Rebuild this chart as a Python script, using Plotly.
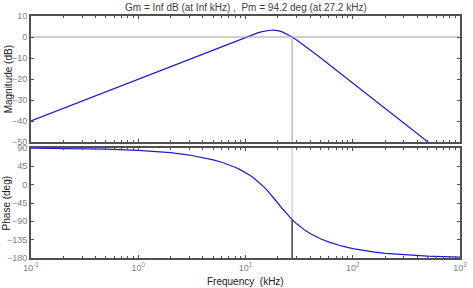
import plotly.graph_objects as go

# Frequency samples (kHz)
freq = [0.1, 0.2, 0.5, 1, 2, 3, 4, 5, 6, 7, 8, 9, 10, 11, 12, 13, 14, 15, 16, 17,
        18, 19, 20, 22, 24, 26, 27.2, 30, 33, 36, 40, 45, 50, 60, 70, 80, 100,
        130, 160, 200, 300, 400, 500, 700, 1000]
# Magnitude (dB)
mag_db = [-40.0, -33.98, -26.02, -20.0, -13.98, -10.46, -7.96, -6.02, -4.44, -3.11,
          -1.96, -0.95, -0.07, 0.71, 1.39, 1.96, 2.44, 2.81, 3.07, 3.22,
          3.26, 3.18, 3.01, 2.42, 1.60, 0.64, 0.05, -1.39, -2.89, -4.31, -6.09,
          -8.10, -9.91, -13.07, -15.75, -18.06, -21.94, -26.50, -30.11, -33.98,
          -41.03, -46.02, -49.90, -55.75, -61.94]
# Phase (deg)
phase_deg = [89.43, 88.85, 87.13, 84.27, 78.52, 72.75, 66.92, 61.03, 55.05, 48.96,
             42.74, 36.34, 29.74, 22.93, 15.89, 8.60, 1.08, -6.61, -14.43, -22.28,
             -30.07, -37.67, -45.0, -58.54, -70.33, -80.38, -85.67, -96.12, -105.0,
             -112.17, -119.74, -127.06, -132.74, -141.01, -146.77, -151.03, -156.92,
             -162.30, -165.63, -168.52, -172.36, -174.27, -175.42, -176.72, -177.70]

pm_freq = 27.2
pm_phase = -85.8
title_text = "Gm = Inf dB (at Inf kHz) ,  Pm = 94.2 deg (at 27.2 kHz)"

mag_range = [-50, 10]
mag_ticks = [-50, -40, -30, -20, -10, 0, 10]
phase_range = [-180, 90]
phase_ticks = [-180, -135, -90, -45, 0, 45, 90]
x_ticks = [0.1, 1, 10, 100, 1000]
x_ticktext = ["10<sup>-1</sup>", "10<sup>0</sup>", "10<sup>1</sup>", "10<sup>2</sup>", "10<sup>3</sup>"]
minor_ticks = [m * d for d in [0.1, 1, 10, 100] for m in range(2, 10)]

blue = "#1a1ad8"
frame = "#505050"
tickfont = dict(family="Liberation Sans, Arial, sans-serif", size=9, color="#808080")

fig = go.Figure()
# Magnitude
fig.add_trace(go.Scatter(x=freq, y=mag_db, mode="lines", line=dict(color=blue, width=1.2),
                         xaxis="x", yaxis="y", showlegend=False))
# 0 dB line
fig.add_trace(go.Scatter(x=[freq[0], freq[-1]], y=[0, 0], mode="lines",
                         line=dict(color="#a0a0a0", width=1), xaxis="x", yaxis="y", showlegend=False))
# vertical marker in magnitude plot
fig.add_trace(go.Scatter(x=[pm_freq, pm_freq], y=[mag_range[0], 0], mode="lines",
                         line=dict(color="#a0a0a0", width=1), xaxis="x", yaxis="y", showlegend=False))
# vertical light line in phase plot (above)
fig.add_trace(go.Scatter(x=[pm_freq, pm_freq], y=[pm_phase, phase_range[1]], mode="lines",
                         line=dict(color="#c0c0c0", width=1), xaxis="x2", yaxis="y2", showlegend=False))
# vertical dark line in phase plot (below)
fig.add_trace(go.Scatter(x=[pm_freq, pm_freq], y=[phase_range[0], pm_phase], mode="lines",
                         line=dict(color="#404040", width=1.5), xaxis="x2", yaxis="y2", showlegend=False))
# Phase
fig.add_trace(go.Scatter(x=freq, y=phase_deg, mode="lines", line=dict(color=blue, width=1.2),
                         xaxis="x2", yaxis="y2", showlegend=False))

axis_common = dict(showline=True, linecolor=frame, linewidth=2, mirror="ticks",
                   ticks="inside", ticklen=3, tickcolor=frame, showgrid=False,
                   zeroline=False, tickfont=tickfont)

H = 242.0
fig.update_layout(
    width=473, height=288,
    margin=dict(l=31, r=6, t=16, b=30),
    paper_bgcolor="white", plot_bgcolor="white",
    xaxis=dict(type="log", range=[-1, 3], domain=[0, 1], anchor="y",
               tickvals=x_ticks, showticklabels=False,
               minor=dict(tickvals=minor_ticks, ticks="inside", ticklen=2, tickcolor=frame),
               **axis_common),
    yaxis=dict(range=mag_range, tickvals=mag_ticks, domain=[(258 - 142) / H, 1.0],
               anchor="x", **axis_common),
    xaxis2=dict(type="log", range=[-1, 3], domain=[0, 1], anchor="y2",
                tickvals=x_ticks, ticktext=x_ticktext,
                minor=dict(tickvals=minor_ticks, ticks="inside", ticklen=2, tickcolor=frame),
                **axis_common),
    yaxis2=dict(range=phase_range, tickvals=phase_ticks, domain=[0, (258 - 148) / H],
                anchor="x2", **axis_common),
    annotations=[
        dict(text=title_text, xref="paper", yref="paper", x=0.5, y=(258 - 7) / H,
             xanchor="center", yanchor="middle", showarrow=False,
             font=dict(family="Liberation Sans, Arial, sans-serif", size=10, color="#404040")),
        dict(text="Magnitude (dB)", xref="paper", yref="paper", x=(8 - 31) / 436.0,
             y=(258 - 79) / H, textangle=-90, xanchor="center", yanchor="middle",
             showarrow=False, font=dict(family="Liberation Sans, Arial, sans-serif", size=10, color="#202020")),
        dict(text="Phase (deg)", xref="paper", yref="paper", x=(6 - 31) / 436.0,
             y=(258 - 203) / H, textangle=-90, xanchor="center", yanchor="middle",
             showarrow=False, font=dict(family="Liberation Sans, Arial, sans-serif", size=10, color="#202020")),
        dict(text="Frequency  (kHz)", xref="paper", yref="paper", x=(249 - 31) / 436.0,
             y=(258 - 281) / H, xanchor="center", yanchor="middle",
             showarrow=False, font=dict(family="Liberation Sans, Arial, sans-serif", size=10, color="#202020")),
    ],
)

fig.write_html("out.html")
